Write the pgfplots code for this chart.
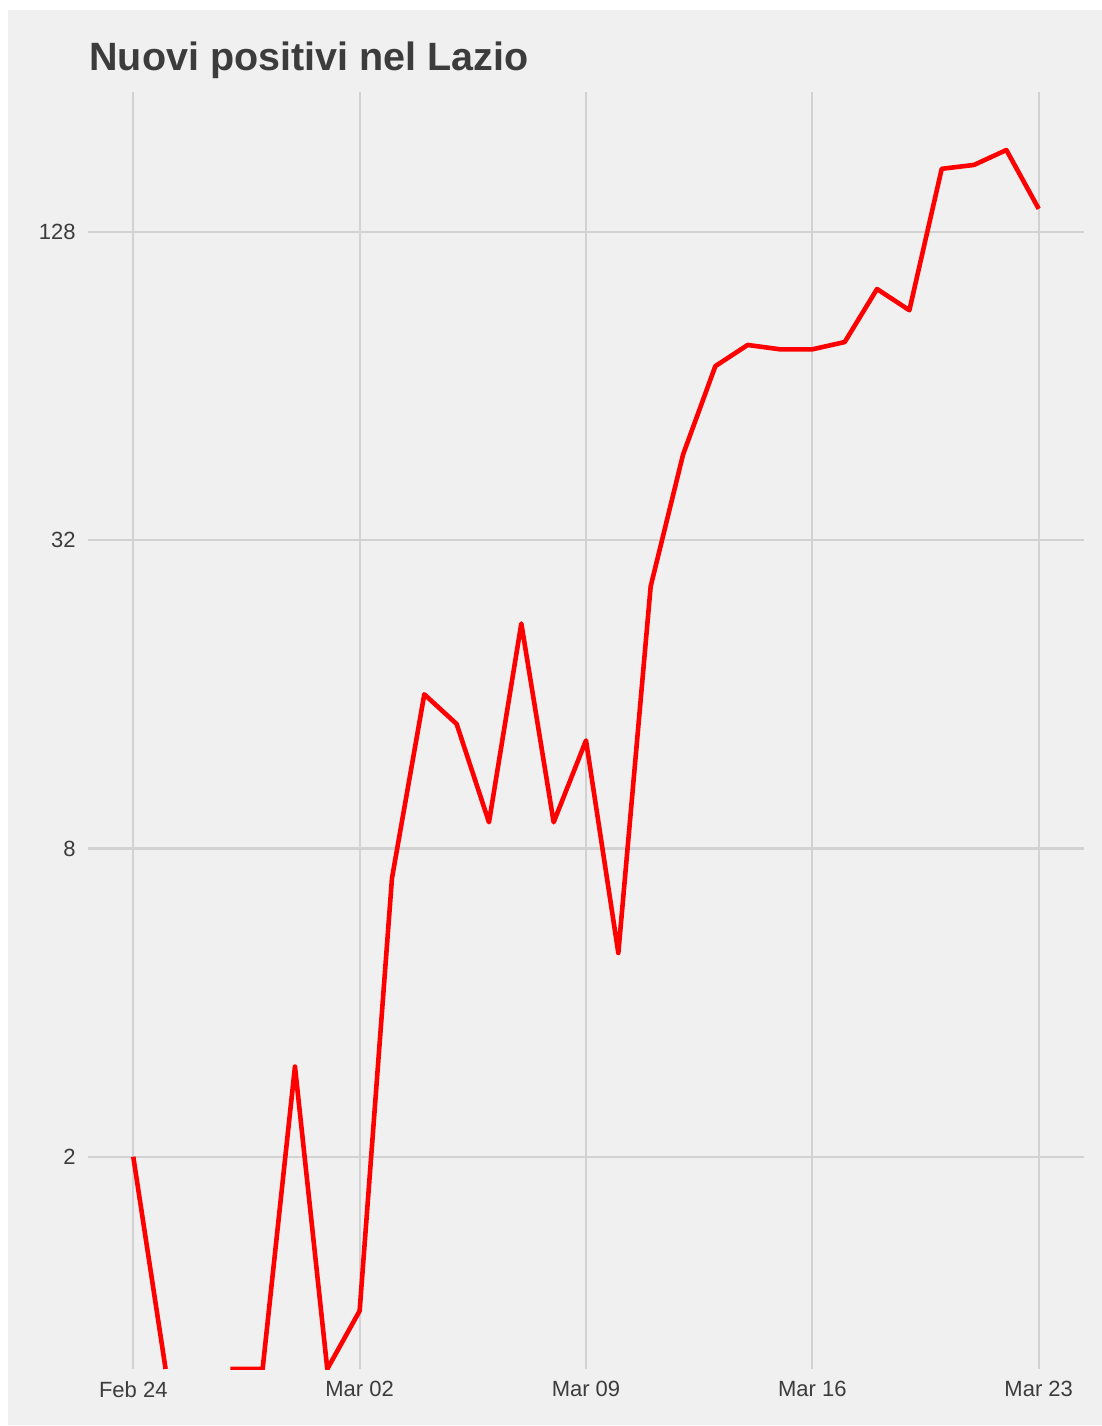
\documentclass[border=0pt]{standalone}
\usepackage{fontspec}
\setmainfont{Liberation Sans}
\usepackage{pgfplots}
\pgfplotsset{compat=1.18}
\definecolor{bggray}{HTML}{F0F0F0}
\definecolor{gridgray}{HTML}{D2D2D2}
\definecolor{textgray}{HTML}{3C3C3C}
\begin{document}
\begin{tikzpicture}
\fill[white] (0pt,0pt) rectangle (551pt,-713pt);
\fill[bggray] (4pt,-5pt) rectangle (551pt,-712.5pt);
\begin{axis}[
  at={(44pt,-684.5pt)}, anchor=south west,
  scale only axis, width=498pt, height=638.5pt,
  xmin=-1.4, xmax=29.4,
  ymode=log, log basis y=2,
  ymin=0.77, ymax=240.1,
  xtick={0,7,14,21,28},
  xticklabels={Feb 24, Mar 02, Mar 09, Mar 16, Mar 23},
  ytick={2,8,32,128},
  yticklabels={2,8,32,128},
  axis line style={draw=none},
  major tick length=0pt,
  grid=major,
  grid style={color=gridgray, line width=1.1pt},
  tick label style={font=\fontsize{11pt}{13pt}\selectfont, text=textgray},
  xticklabel style={anchor=north, inner sep=0pt, yshift=-6pt},
  yticklabel style={anchor=east, inner sep=0pt, xshift=-6pt},
  unbounded coords=jump,
]
\addplot[color=red, line width=2.3pt, line join=round, mark=none] coordinates {
(0,2) (1,0.77) (2,nan) (3,0.77) (4,0.77) (5,3) (6,0.77) (7,1)
(8,7) (9,16) (10,14) (11,9) (12,22) (13,9) (14,13) (15,5)
(16,26) (17,47) (18,70) (19,77) (20,75.5) (21,75.5) (22,78)
(23,99) (24,90) (25,170) (26,173) (27,185) (28,142)
};
\end{axis}
\node[anchor=base west, inner sep=0pt, font=\fontsize{19.75pt}{23pt}\selectfont\bfseries, text=textgray] at (44.5pt,-35pt) {Nuovi positivi nel Lazio};
\end{tikzpicture}
\end{document}
